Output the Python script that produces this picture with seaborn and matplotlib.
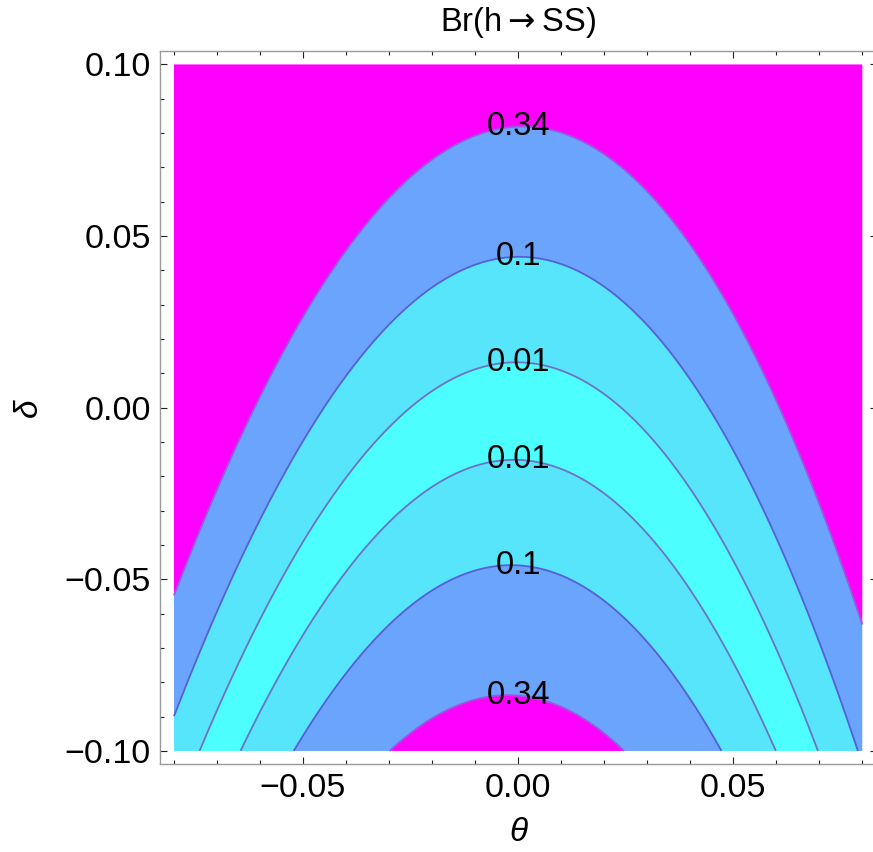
import numpy as np
import matplotlib
matplotlib.use("Agg")
import matplotlib.pyplot as plt
import seaborn as sns
from matplotlib.ticker import MultipleLocator

sns.set_theme(style="white")
plt.rcParams['font.family'] = ['Liberation Sans', 'DejaVu Sans']
plt.rcParams['mathtext.fontset'] = 'dejavusans'

# Branching-ratio contour levels and their printed labels
br_levels = [0.01, 0.1, 0.34]
br_labels = ["0.01", "0.1", "0.34"]

# Scanned parameter window
theta_range = [-0.08, 0.08]
delta_range = [-0.10, 0.10]

# Valley of vanishing Br(h->SS): delta_0(theta) = c0 + c1*theta + c2*theta^2 + c3*theta^3.
# Br grows quadratically with (delta - delta_0) / (1 + tilt*theta).
valley_coef = [-0.001, -0.029, -22.0, -15.4]
width_tilt = 0.9
br_scale = 49.5

# Axis ticks
x_major = [-0.05, 0.0, 0.05]
y_major = [-0.10, -0.05, 0.0, 0.05, 0.10]

band_colors = ["#4dfefe", "#57e5fc", "#6aa4fc", "#ff00ff"]
line_colors = ["#6e72c6", "#5560d8", "#9a58e0"]


def valley(t):
    return sum(c * t ** i for i, c in enumerate(valley_coef))


theta = np.linspace(theta_range[0], theta_range[1], 801)
delta = np.linspace(delta_range[0], delta_range[1], 801)
T, D = np.meshgrid(theta, delta)
BR = br_scale * ((D - valley(T)) / (1.0 + width_tilt * T)) ** 2

W, H = 873, 852
fig = plt.figure(figsize=(W / 100, H / 100), dpi=100)
ax = fig.add_axes([160 / W, (H - 764) / H, 716.5 / W, 713.3 / H])
ax.set_facecolor("white")

fill_levels = [0.0] + br_levels + [float(BR.max()) + 1.0]
ax.contourf(T, D, BR, levels=fill_levels, colors=band_colors, antialiased=True)
cs = ax.contour(T, D, BR, levels=br_levels, colors=line_colors, linewidths=1.3)

# Labels sit on each contour where it crosses theta = 0
label_pos = []
for lv in br_levels:
    w = np.sqrt(lv / br_scale)
    label_pos += [(0.0, valley(0.0) + w), (0.0, valley(0.0) - w)]
fmt = dict(zip(br_levels, br_labels))
texts = ax.clabel(cs, inline=False, manual=label_pos, fmt=fmt,
                  fontsize=23.5, colors="black")
for t in texts:
    t.set_rotation(0)

ax.set_xlim(-0.08325, 0.0833)
ax.set_ylim(-0.1038, 0.1040)

ax.set_xticks(x_major)
ax.set_xticklabels([f"{v:.2f}".replace("-", "\u2212") for v in x_major])
ax.set_yticks(y_major)
ax.set_yticklabels([f"{v:.2f}".replace("-", "\u2212") for v in y_major])
ax.xaxis.set_minor_locator(MultipleLocator(0.01))
ax.yaxis.set_minor_locator(MultipleLocator(0.01))
ax.tick_params(which="both", direction="in", top=True, right=True,
               bottom=True, left=True, labeltop=False, labelright=False,
               color="#222222", width=0.8, labelsize=24.5, labelcolor="black",
               pad=6.5)
ax.tick_params(which="major", length=5)
ax.tick_params(which="minor", length=3)

for s in ax.spines.values():
    s.set_color("#9a9a9a")
    s.set_linewidth(1.0)
    s.set_visible(True)

ax.set_xlabel("\u03b8", fontsize=24, style="italic", labelpad=9, color="black")
ax.set_ylabel("\u03b4", fontsize=24, style="italic", labelpad=15, color="black")
ax.set_title(r"Br(h$\rightarrow$SS)", fontsize=23.5, pad=14, color="black")

fig.savefig("out.png", dpi=100)
